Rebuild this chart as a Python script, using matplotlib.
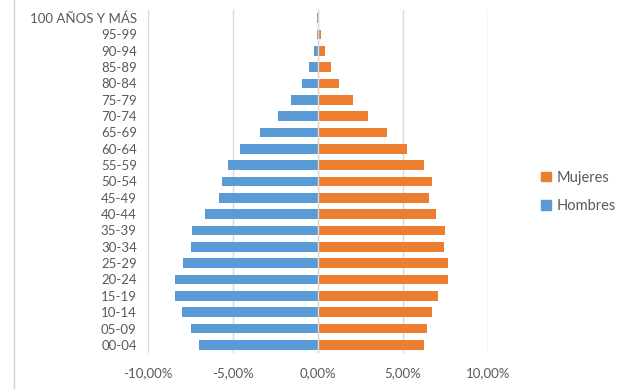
import matplotlib.pyplot as plt
from matplotlib.lines import Line2D
from matplotlib.patches import Patch

grupos = ["00-04", "05-09", "10-14", "15-19", "20-24", "25-29", "30-34",
          "35-39", "40-44", "45-49", "50-54", "55-59", "60-64", "65-69",
          "70-74", "75-79", "80-84", "85-89", "90-94", "95-99", "100 AÑOS Y MÁS"]

# porcentaje de la poblacion total
hombres = [7.00, 7.49, 8.02, 8.41, 8.41, 7.94, 7.49, 7.41, 6.65, 5.80, 5.65,
           5.31, 4.59, 3.41, 2.33, 1.59, 0.96, 0.51, 0.22, 0.06, 0.03]
mujeres = [6.25, 6.41, 6.71, 7.08, 7.63, 7.63, 7.41, 7.47, 6.94, 6.55, 6.71,
           6.25, 5.25, 4.04, 2.96, 2.04, 1.25, 0.80, 0.41, 0.18, 0.06]

azul = "#5B9BD5"
naranja = "#ED7D31"
gris = "#595959"

plt.rcParams['font.family'] = ['Lato', 'DejaVu Sans']

fig = plt.figure(figsize=(6.19, 3.89), dpi=100)
ax = fig.add_axes([0.239, 0.0925, 0.549, 0.882])

pos = range(len(grupos))
ax.barh(pos, [-h for h in hombres], height=0.6, color=azul, label="Hombres", zorder=3)
ax.barh(pos, mujeres, height=0.6, color=naranja, label="Mujeres", zorder=3)

ax.set_xlim(-10, 10)
ax.set_ylim(-0.5, len(grupos) - 0.5)
ax.set_xticks([-10, -5, 0, 5, 10])
ax.set_xticklabels([f"{v:.2f}%".replace(".", ",") for v in [-10, -5, 0, 5, 10]])
ax.set_yticks(list(pos))
ax.set_yticklabels(grupos)
ax.tick_params(axis='both', length=0, colors=gris, labelsize=9.5)
ax.tick_params(axis='y', pad=8)
ax.tick_params(axis='x', pad=10)

ax.grid(axis='x', color="#D9D9D9", linewidth=1, zorder=0)
ax.axvline(0, color="#D9D9D9", linewidth=1, zorder=4)
for s in ax.spines.values():
    s.set_visible(False)

# borde izquierdo del grafico
fig.add_artist(Line2D([14 / 619, 14 / 619], [0, 1], color="#D0D0D0", linewidth=1,
                      transform=fig.transFigure))

handles = [Patch(color=naranja, label="Mujeres"), Patch(color=azul, label="Hombres")]
leg = fig.legend(handles=handles, loc='center left', bbox_to_anchor=(528 / 619, 1 - 192 / 389),
                 frameon=False, fontsize=10.5, handlelength=0.65, handleheight=0.65,
                 handletextpad=0.4, labelspacing=1.0)
for t in leg.get_texts():
    t.set_color(gris)

fig.savefig("out.png", dpi=100)
